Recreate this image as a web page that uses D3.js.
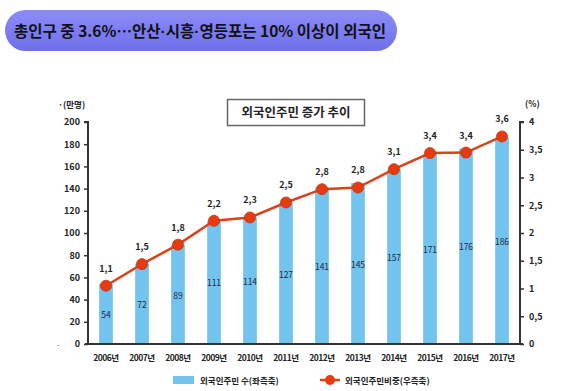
<!DOCTYPE html>
<html><head><meta charset="utf-8">
<script src="https://cdn.jsdelivr.net/npm/d3@7/dist/d3.min.js"></script>
<style>body{margin:0;background:#fff;}svg{display:block;}</style>
</head><body>
<svg id="c" width="562" height="391"></svg>
<script>
const years = ["2006년","2007년","2008년","2009년","2010년","2011년","2012년","2013년","2014년","2015년","2016년","2017년"];
const residents = [54,72,89,111,114,127,141,145,157,171,176,186];
const sharePlot = [1.05,1.44,1.79,2.22,2.28,2.55,2.79,2.82,3.15,3.44,3.45,3.74];
const shareLabels = ["1,1","1,5","1,8","2,2","2,3","2,5","2,8","2,8","3,1","3,4","3,4","3,6"];
const leftTicks = [0,20,40,60,80,100,120,140,160,180,200];
const rightTicks = [0,0.5,1,1.5,2,2.5,3,3.5,4];
const rightTickLabels = ["0","0,5","1","1,5","2","2,5","3","3,5","4"];
const headerParts = ["총인구 중 3.6%…안산","·","시흥","·","영등포는 10% 이상이 외국인"];

const svg = d3.select("#c");
const font = "'Noto Sans CJK KR', 'Noto Sans', sans-serif";
const L = 88, R = 520, T = 122, B = 344;

// header pill
const defs = svg.append("defs");
const g1 = defs.append("linearGradient").attr("id","pill").attr("x1",0).attr("y1",0).attr("x2",0).attr("y2",1);
g1.append("stop").attr("offset","0").attr("stop-color","#8c8cf7");
g1.append("stop").attr("offset","1").attr("stop-color","#6f6fec");
svg.append("rect").attr("x",5).attr("y",10).attr("width",392).attr("height",41).attr("rx",20.5)
  .attr("fill","url(#pill)");
const ht = svg.append("text").attr("x",200).attr("y",36.5).attr("text-anchor","middle")
  .attr("font-family",font).attr("font-weight","bold").attr("font-size",15.5).attr("fill","#111")
  .attr("textLength",372).attr("lengthAdjust","spacingAndGlyphs");
headerParts.forEach(p=>{
  ht.append("tspan").attr("font-family", p==="·" ? "'Liberation Sans', sans-serif" : font).text(p);
});

const x = d3.scaleBand().domain(years).range([L,R]).paddingInner(0.62).paddingOuter(0.31);
const yL = d3.scaleLinear().domain([0,200]).range([B,T]);
const yR = d3.scaleLinear().domain([0,4]).range([B,T]);

// bars
svg.append("g").selectAll("rect").data(residents).join("rect")
  .attr("x",(d,i)=>x(years[i])).attr("width",x.bandwidth())
  .attr("y",d=>yL(d)).attr("height",d=>B-yL(d)).attr("fill","#72c3ee");
svg.append("g").selectAll("text").data(residents).join("text")
  .attr("x",(d,i)=>x(years[i])+x.bandwidth()/2).attr("y",d=>(yL(d)+B)/2+4)
  .attr("text-anchor","middle").attr("font-family",font).attr("font-size",8.5)
  .attr("fill","#1a2a44").text(d=>d);

// left axis
const axL = d3.axisLeft(yL).tickValues(leftTicks).tickSize(4).tickPadding(4);
const gL = svg.append("g").attr("transform",`translate(${L},0)`).call(axL);
gL.select(".domain").attr("stroke","#333").attr("stroke-width",2).attr("d",`M-4,${T}H0V${B}`);
gL.selectAll(".tick line").attr("stroke","#333").attr("stroke-width",1.5);
gL.selectAll("text").attr("font-family",font).attr("font-size",9).attr("font-weight","bold").attr("fill","#222");

// right axis
const axR = d3.axisRight(yR).tickValues(rightTicks).tickFormat((d,i)=>rightTickLabels[i]).tickSize(4).tickPadding(5);
const gR = svg.append("g").attr("transform",`translate(${R},0)`).call(axR);
gR.select(".domain").attr("stroke","#333").attr("stroke-width",2).attr("d",`M4,${T}H0V${B}`);
gR.selectAll(".tick line").attr("stroke","#333").attr("stroke-width",1.5);
gR.selectAll("text").attr("font-family",font).attr("font-size",9).attr("font-weight","bold").attr("fill","#222");

// bottom axis
const axB = d3.axisBottom(x).tickSize(0).tickPadding(11);
const gB = svg.append("g").attr("transform",`translate(0,${B})`).call(axB);
gB.select(".domain").attr("stroke","#333").attr("stroke-width",2).attr("d",`M${L-3},0H${R+3}`);
gB.selectAll("text").attr("font-family",font).attr("font-size",8.5).attr("font-weight","bold").attr("fill","#222")
  .attr("letter-spacing","-0.5");

// line
const line = d3.line().x((d,i)=>x(years[i])+x.bandwidth()/2).y(d=>yR(d));
svg.append("path").datum(sharePlot).attr("d",line).attr("fill","none").attr("stroke","#d8431c").attr("stroke-width",2.5);
svg.append("g").selectAll("circle").data(sharePlot).join("circle")
  .attr("cx",(d,i)=>x(years[i])+x.bandwidth()/2).attr("cy",d=>yR(d)).attr("r",5.5)
  .attr("fill","#e63a10").attr("stroke","#c8340e").attr("stroke-width",0.8);
svg.append("g").selectAll("text").data(shareLabels).join("text")
  .attr("x",(d,i)=>x(years[i])+x.bandwidth()/2).attr("y",(d,i)=>yR(sharePlot[i])-14)
  .attr("text-anchor","middle").attr("font-family",font).attr("font-size",9).attr("font-weight","bold")
  .attr("fill","#222").text(d=>d);

// unit labels
svg.append("text").attr("x",58).attr("y",108).attr("font-family",font).attr("font-size",8.5).attr("font-weight","bold")
  .attr("fill","#222").text("·(만명)");
svg.append("text").attr("x",525).attr("y",107).attr("font-family",font).attr("font-size",8.5).attr("font-weight","bold")
  .attr("fill","#222").text("(%)");
svg.append("text").attr("x",56).attr("y",348).attr("font-family",font).attr("font-size",8).attr("fill","#333").text("·");

// chart title box
svg.append("rect").attr("x",227.5).attr("y",99.5).attr("width",137).attr("height",26)
  .attr("fill","#fff").attr("stroke","#666").attr("stroke-width",1.5);
svg.append("text").attr("x",296).attr("y",117).attr("text-anchor","middle").attr("font-family",font)
  .attr("font-size",12.5).attr("font-weight","bold").attr("fill","#222").text("외국인주민 증가 추이");

// legend
svg.append("rect").attr("x",173).attr("y",376).attr("width",21).attr("height",8).attr("fill","#72c3ee");
svg.append("text").attr("x",200).attr("y",384).attr("font-family",font).attr("font-size",8.5).attr("font-weight","bold")
  .attr("fill","#222").text("외국인주민 수(좌측축)");
svg.append("line").attr("x1",320).attr("x2",340).attr("y1",380).attr("y2",380).attr("stroke","#d8431c").attr("stroke-width",2.5);
svg.append("circle").attr("cx",330).attr("cy",380).attr("r",5).attr("fill","#e63a10");
svg.append("text").attr("x",345).attr("y",384).attr("font-family",font).attr("font-size",8.5).attr("font-weight","bold")
  .attr("fill","#222").text("외국인주민비중(우측축)");
</script>
</body></html>
